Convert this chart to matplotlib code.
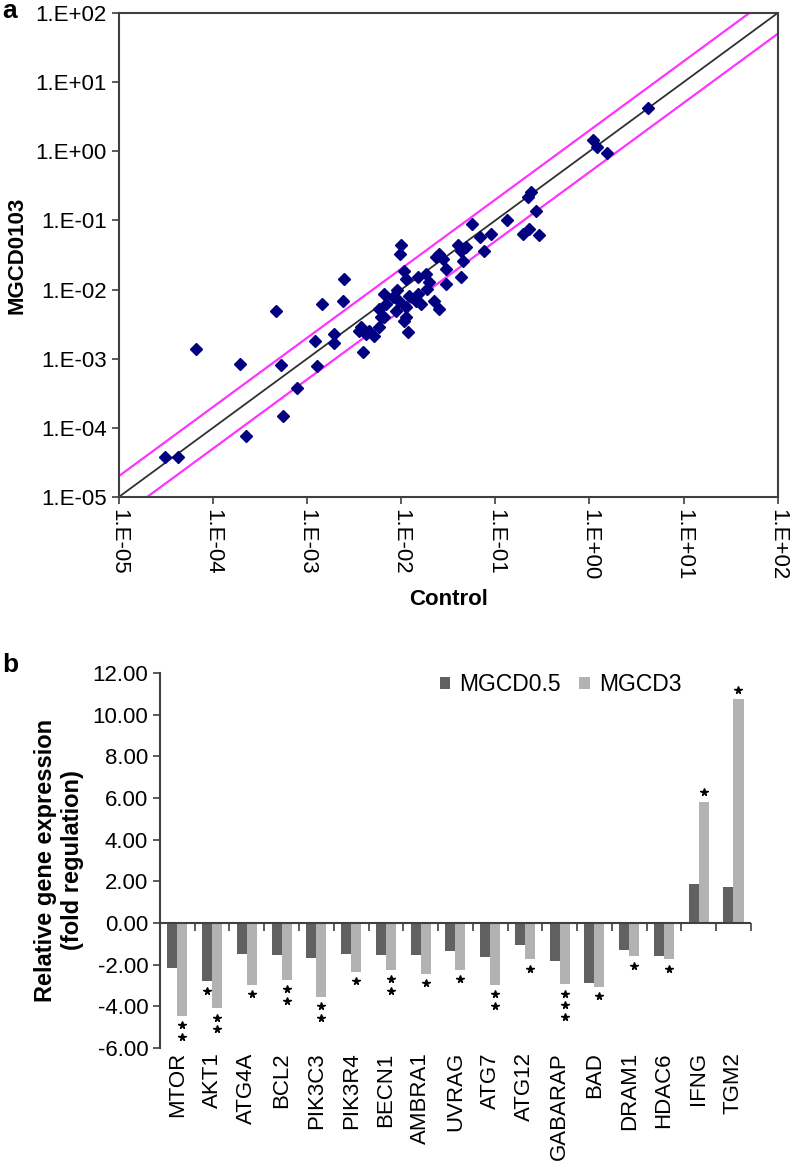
import numpy as np
import matplotlib.pyplot as plt
from matplotlib.ticker import FuncFormatter, NullLocator

plt.rcParams['font.family'] = ['Liberation Sans', 'DejaVu Sans']

# panel a: expression in control vs MGCD0103 treated cells
control = [3.06e-5, 4.25e-5, 6.6e-5, 1.92e-4, 2.23e-4, 4.7e-4, 5.3e-4, 5.5e-4, 7.9e-4,
           1.22e-3, 1.26e-3, 1.43e-3, 1.94e-3, 1.94e-3, 2.42e-3, 2.48e-3, 3.57e-3, 3.95e-3,
           4.2e-3, 5.2e-3, 5.8e-3, 4.57e-3, 3.7e-3, 6.1e-3, 6.6e-3, 8.1e-3, 6.9e-3, 8.8e-3,
           6.6e-3, 5.8e-3, 9.5e-3, 1.12e-2, 1.12e-2, 1.08e-2, 1.17e-2, 9.9e-3, 9.7e-3,
           1.08e-2, 1.12e-2, 1.49e-2, 1.83e-2, 1.99e-2, 1.9e-2, 1.49e-2, 1.62e-2, 1.43e-2,
           2.24e-2, 2.53e-2, 2.53e-2, 2.75e-2, 2.99e-2, 2.99e-2, 3.97e-2, 4.3e-2, 4.9e-2,
           4.5e-2, 4.3e-2, 5.7e-2, 6.8e-2, 7.6e-2, 9.1e-2, 0.132, 0.221, 0.24, 0.271, 0.195,
           0.226, 0.294, 1.08, 1.19, 1.55, 4.14, 2.34e-2, 9.1e-3, 1.22e-2]
mgcd0103 = [3.8e-5, 3.8e-5, 1.38e-3, 8.4e-4, 7.7e-5, 4.97e-3, 8.1e-4, 1.49e-4, 3.76e-4,
            1.78e-3, 7.9e-4, 6.2e-3, 2.28e-3, 1.67e-3, 6.8e-3, 1.43e-2, 2.55e-3, 1.23e-3,
            2.28e-3, 2.15e-3, 2.84e-3, 2.55e-3, 2.84e-3, 3.97e-3, 8.7e-3, 7.7e-3, 6.2e-3, 4.97e-3,
            3.97e-3, 5.25e-3, 6.9e-3, 5.5e-3, 3.97e-3, 3.56e-3, 2.4e-3, 4.35e-2, 3.29e-2,
            1.88e-2, 1.43e-2, 1.51e-2, 1.69e-2, 1.28e-2, 1.02e-2, 8.7e-3, 6.2e-3, 6.9e-3,
            6.9e-3, 5.25e-3, 3.29e-2, 2.79e-2, 2.0e-2, 1.21e-2, 4.35e-2, 3.67e-2, 4.1e-2,
            2.63e-2, 1.51e-2, 8.95e-2, 5.7e-2, 3.67e-2, 6.4e-2, 0.103, 0.218, 0.257, 0.136, 0.064,
            0.076, 0.061, 1.44, 1.14, 0.94, 4.2, 2.94e-2, 9.7e-3, 8.2e-3]

# panel b: fold regulation of autophagy genes
genes = ['MTOR', 'AKT1', 'ATG4A', 'BCL2', 'PIK3C3', 'PIK3R4', 'BECN1', 'AMBRA1', 'UVRAG',
         'ATG7', 'ATG12', 'GABARAP', 'BAD', 'DRAM1', 'HDAC6', 'IFNG', 'TGM2']
mgcd05 = [-2.18, -2.79, -1.50, -1.54, -1.70, -1.49, -1.54, -1.55, -1.33,
          -1.62, -1.06, -1.81, -2.90, -1.30, -1.59, 1.87, 1.75]
mgcd3 = [-4.46, -4.10, -2.98, -2.74, -3.54, -2.34, -2.26, -2.45, -2.26,
         -2.98, -1.75, -2.95, -3.06, -1.59, -1.75, 5.83, 10.75]
stars05 = [0, 1, 0, 0, 0, 0, 0, 0, 0, 0, 0, 0, 0, 0, 0, 0, 0]
stars3 = [2, 2, 1, 2, 2, 1, 2, 1, 1, 2, 1, 3, 1, 1, 1, 1, 1]

axis_col = '#404040'
fs = 16

fig = plt.figure(figsize=(7.92, 11.68), dpi=100)

# ---- panel a
ax1 = fig.add_axes([0.150, 0.5745, 0.832, 0.4144])
ax1.set_xscale('log')
ax1.set_yscale('log')
ref = np.array([1e-5, 1e2])
ax1.plot(ref, ref * 2, color='#ff33ff', lw=1.6)
ax1.plot(ref, ref / 2, color='#ff33ff', lw=1.6)
ax1.plot(ref, ref, color='#303030', lw=1.3)
ax1.plot(control, mgcd0103, ls='none', marker='D', ms=6.5, color='#000080')
ax1.set_xlim(1e-5, 1e2)
ax1.set_ylim(1e-5, 1e2)
decades = 10.0 ** np.arange(-5, 3)
sci = FuncFormatter(lambda v, _: '1.E{:+03d}'.format(int(round(np.log10(v)))))
for axis in (ax1.xaxis, ax1.yaxis):
    axis.set_ticks(decades)
    axis.set_major_formatter(sci)
    axis.set_minor_locator(NullLocator())
ax1.tick_params(direction='out', length=5, width=1.2, color=axis_col, labelsize=fs)
ax1.tick_params(axis='x', labelrotation=270, pad=4)
for s in ax1.spines.values():
    s.set_color(axis_col)
    s.set_linewidth(1.5)
ax1.set_xlabel('Control', fontweight='bold', fontsize=fs, labelpad=6)
ax1.set_ylabel('MGCD0103', fontweight='bold', fontsize=fs, labelpad=6)

# ---- panel b
ax2 = fig.add_axes([0.202, 0.1027, 0.746, 0.3211])
x = np.arange(len(genes))
w = 0.29
ax2.bar(x - w / 2, mgcd05, w, color='#616161', label='MGCD0.5')
ax2.bar(x + w / 2, mgcd3, w, color='#b2b2b2', label='MGCD3')
ax2.axhline(0, color=axis_col, lw=1.5)
edges = np.arange(len(genes) + 1) - 0.5
ax2.plot(edges, np.zeros(len(edges)), ls='none', marker=3, ms=6, mew=1.2,
         color=axis_col, clip_on=False)

# significance stars
for xs, vals, counts in ((x - w / 2, mgcd05, stars05), (x + w / 2, mgcd3, stars3)):
    for xi, v, n in zip(xs, vals, counts):
        sgn = 1 if v > 0 else -1
        ys = [v + sgn * (0.45 + 0.55 * k) for k in range(n)]
        ax2.plot([xi] * n, ys, ls='none', marker='*', ms=5.5, color='black')

ax2.set_xlim(-0.5, len(genes) - 0.5)
ax2.set_ylim(-6, 12)
ax2.set_yticks(np.arange(-6, 13, 2))
ax2.yaxis.set_major_formatter(FuncFormatter(lambda v, _: '{:.2f}'.format(v)))
ax2.set_xticks(x)
ax2.set_xticklabels(genes, rotation=90)
ax2.tick_params(axis='x', length=0, pad=3, labelsize=fs)
ax2.tick_params(axis='y', direction='out', length=5, width=1.2, color=axis_col, labelsize=fs)
for s in ('top', 'right', 'bottom'):
    ax2.spines[s].set_visible(False)
ax2.spines['left'].set_color(axis_col)
ax2.spines['left'].set_linewidth(1.5)
ax2.set_ylabel('Relative gene expression\n(fold regulation)', fontweight='bold', fontsize=17,
               labelpad=6)
ax2.legend(loc='upper left', bbox_to_anchor=(0.474, 1.0), ncol=2, frameon=False,
           fontsize=16.5, handlelength=0.45, handleheight=0.45, handletextpad=0.4,
           columnspacing=0.8, borderpad=0, borderaxespad=0)

fig.text(0.003, 0.9846, 'a', fontweight='bold', fontsize=19)
fig.text(0.003, 0.4247, 'b', fontweight='bold', fontsize=19)

fig.savefig('out.png', dpi=100)
